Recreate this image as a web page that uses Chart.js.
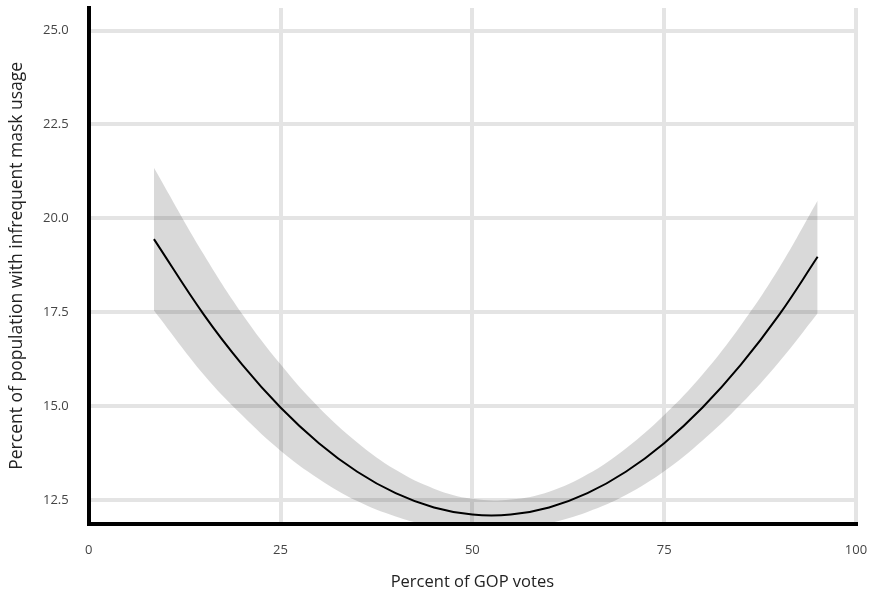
<!DOCTYPE html>
<html>
<head>
<meta charset="utf-8">
<script src="https://cdn.jsdelivr.net/npm/chart.js"></script>
<style>
  body { margin: 0; background: #fff; }
  #c { display: block; }
</style>
</head>
<body>
<canvas id="c" width="870" height="592"></canvas>
<script>
// GOP vote share (x) vs fitted share with infrequent mask usage, with confidence band
const gopVotes = [8.5, 15, 20, 25, 30, 35, 40, 45, 50, 55, 60, 65, 70, 75, 80, 85, 90, 95];
const fitted   = [19.45, 17.44, 16.11, 14.97, 14.02, 13.26, 12.69, 12.31, 12.12, 12.12, 12.31, 12.69, 13.26, 14.02, 14.97, 16.11, 17.44, 18.98];
const upperCI  = [21.35, 19.04, 17.46, 16.12, 14.97, 14.04, 13.31, 12.81, 12.54, 12.52, 12.73, 13.19, 13.88, 14.77, 15.85, 17.16, 18.69, 20.48];
const lowerCI  = [17.55, 15.84, 14.76, 13.82, 13.07, 12.48, 12.07, 11.81, 11.70, 11.72, 11.89, 12.19, 12.64, 13.27, 14.09, 15.06, 16.19, 17.48];
const xTicks = [0, 25, 50, 75, 100];
const yTicks = [12.5, 15.0, 17.5, 20.0, 22.5, 25.0];

const pts = arr => gopVotes.map((x, i) => ({ x: x, y: arr[i] }));

const font = "'Open Sans', 'Noto Sans', sans-serif";
const gridColor = '#e4e4e4';

new Chart(document.getElementById('c'), {
  type: 'line',
  data: {
    datasets: [
      {
        data: pts(upperCI),
        borderWidth: 0,
        pointRadius: 0,
        tension: 0.4,
        backgroundColor: 'rgba(0,0,0,0.15)',
        fill: '+1',
        order: 2
      },
      {
        data: pts(lowerCI),
        borderWidth: 0,
        pointRadius: 0,
        tension: 0.4,
        fill: false,
        order: 2
      },
      {
        data: pts(fitted),
        borderColor: '#000',
        borderWidth: 2,
        pointRadius: 0,
        tension: 0.4,
        fill: false,
        order: 1
      }
    ]
  },
  options: {
    responsive: false,
    animation: false,
    layout: { padding: { top: 8, right: 14, bottom: 0, left: 7 } },
    plugins: { legend: { display: false }, tooltip: { enabled: false } },
    scales: {
      x: {
        type: 'linear',
        min: 0,
        max: 100,
        afterBuildTicks: s => { s.ticks = xTicks.map(v => ({ value: v })); },
        // labels don't sit at the very edges, so drop the auto edge padding
        afterFit: s => { s.paddingLeft = 0; s.paddingRight = 0; },
        grid: { color: gridColor, lineWidth: 4, drawTicks: false },
        border: { color: '#000', width: 4 },
        ticks: { color: '#444', font: { family: font, size: 13 }, padding: 19 },
        title: { display: true, text: 'Percent of GOP votes', color: '#222', font: { family: font, size: 16.5 }, padding: { top: -5, bottom: 0 } }
      },
      y: {
        min: 11.88,
        max: 25.6,
        afterBuildTicks: s => { s.ticks = yTicks.map(v => ({ value: v })); },
        afterFit: s => { s.paddingTop = 0; s.paddingBottom = 0; },
        grid: { color: gridColor, lineWidth: 4, drawTicks: false },
        border: { color: '#000', width: 4 },
        ticks: { color: '#444', font: { family: font, size: 13 }, padding: 20, callback: v => v.toFixed(1) },
        title: { display: true, text: 'Percent of population with infrequent mask usage', color: '#222', font: { family: font, size: 17.5 }, padding: { top: 0, bottom: -5 } }
      }
    }
  }
});
</script>
</body>
</html>
